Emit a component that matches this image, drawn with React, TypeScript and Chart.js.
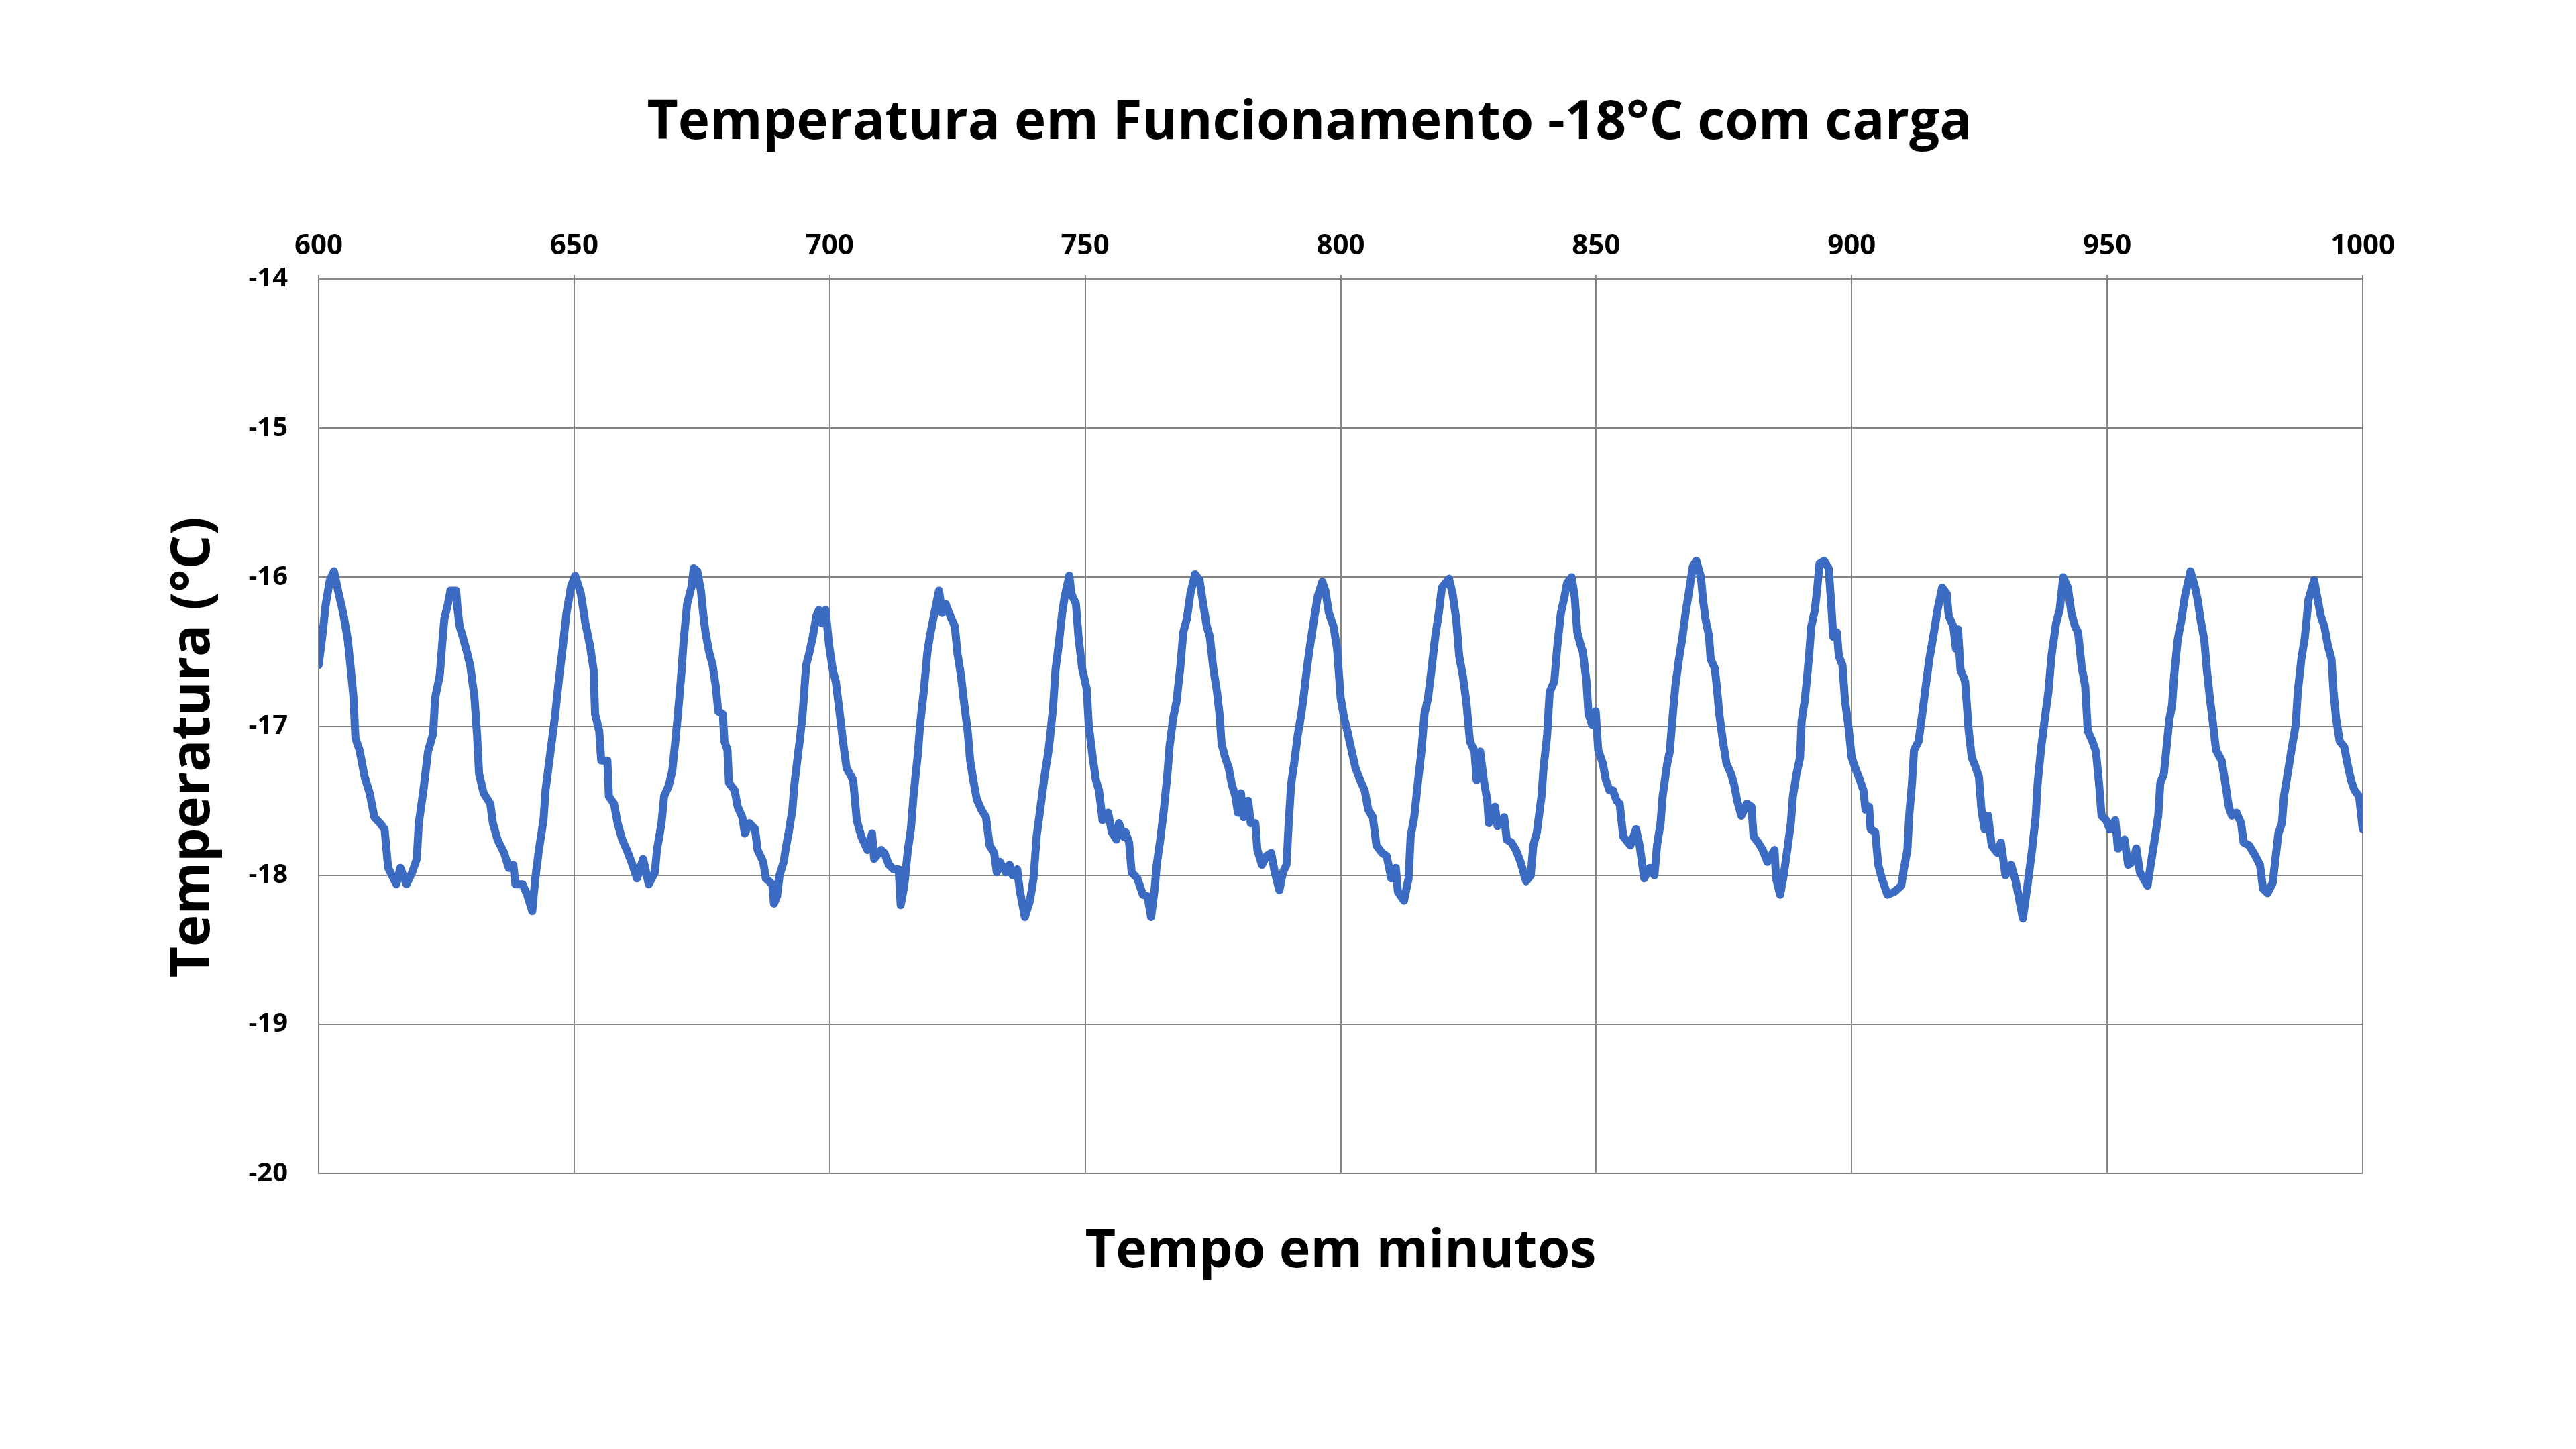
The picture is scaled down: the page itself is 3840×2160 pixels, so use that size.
import { useEffect, useRef } from "react";
import { Chart, registerables, type Chart as ChartType } from "chart.js";

Chart.register(...registerables);

const TITLE = "Temperatura em Funcionamento -18°C com carga";
const X_TITLE = "Tempo em minutos";
const Y_TITLE = "Temperatura (°C)";

const X_MIN = 600;
const X_MAX = 1000;
const X_STEP = 50;
const Y_MIN = -20;
const Y_MAX = -14;
const Y_STEP = 1;

// readings as [minute, °C]
const readings600: [number, number][] = [
  [600.0, -16.59], [600.7, -16.4], [601.4, -16.18], [602.2, -16.02], [603.0, -15.96], [603.8, -16.09],
  [604.8, -16.24], [605.7, -16.42], [606.3, -16.62], [606.8, -16.8], [607.2, -17.08], [608.0, -17.16],
  [609.0, -17.34], [610.0, -17.45], [610.9, -17.61], [612.0, -17.65], [612.9, -17.69], [613.6, -17.95],
  [615.2, -18.06], [616.0, -17.95], [617.2, -18.06], [618.3, -17.98], [619.2, -17.89], [619.6, -17.65],
  [620.5, -17.43], [621.4, -17.17], [622.4, -17.05], [622.8, -16.81], [623.7, -16.66], [624.2, -16.44],
  [624.6, -16.28], [625.3, -16.18], [625.8, -16.09], [626.9, -16.09], [627.2, -16.22], [627.6, -16.33],
  [628.2, -16.4], [629.0, -16.5], [629.7, -16.6], [630.5, -16.81], [631.0, -17.06], [631.4, -17.32],
  [632.3, -17.45], [633.6, -17.52], [634.1, -17.65], [635.0, -17.76], [636.3, -17.85], [637.2, -17.95],
  [638.1, -17.93], [638.5, -18.06], [639.9, -18.06], [640.8, -18.13], [641.8, -18.24], [642.4, -18.02],
  [643.1, -17.83], [644.0, -17.63], [644.4, -17.43], [645.3, -17.19], [646.2, -16.95], [647.1, -16.66],
  [647.8, -16.46], [648.5, -16.24], [649.4, -16.06], [650.2, -15.99], [651.3, -16.11], [652.2, -16.31],
  [653.1, -16.46], [653.8, -16.62], [654.1, -16.92], [654.9, -17.03], [655.3, -17.23], [656.5, -17.23],
  [656.8, -17.47], [657.8, -17.52], [658.5, -17.65], [659.4, -17.76], [660.3, -17.83], [661.2, -17.91],
  [662.3, -18.02], [663.5, -17.89], [664.6, -18.06], [665.8, -17.98], [666.2, -17.83], [667.1, -17.65],
  [667.6, -17.47], [668.5, -17.4], [669.2, -17.3], [669.8, -17.1], [670.3, -16.92], [670.9, -16.68],
  [671.4, -16.44], [672.1, -16.18], [673.0, -16.06], [673.4, -15.94], [674.1, -15.96], [674.8, -16.09],
  [675.3, -16.26], [675.7, -16.37], [676.4, -16.5], [677.1, -16.59], [677.7, -16.73], [678.2, -16.9],
  [679.1, -16.92], [679.4, -17.1], [680.0, -17.16], [680.3, -17.38], [681.4, -17.43], [682.0, -17.54],
  [682.9, -17.61], [683.4, -17.72], [684.3, -17.65], [685.4, -17.69], [685.9, -17.83], [687.0, -17.91],
  [687.5, -18.02], [688.8, -18.06], [689.1, -18.19], [689.7, -18.14], [690.2, -18.0], [691.0, -17.91],
  [691.5, -17.8], [692.0, -17.71], [692.7, -17.56], [693.1, -17.39], [693.8, -17.19], [694.2, -17.08],
  [694.7, -16.92], [695.4, -16.59], [696.0, -16.51], [696.7, -16.4], [697.4, -16.26], [697.9, -16.22],
  [698.5, -16.31], [699.2, -16.22], [699.9, -16.46],
];

const readings700: [number, number][] = [
  [700.6, -16.62], [701.2, -16.7], [701.7, -16.84], [702.6, -17.1], [703.3, -17.28], [704.6, -17.36],
  [705.3, -17.63], [706.2, -17.74], [707.4, -17.83], [708.3, -17.72], [708.7, -17.89], [710.1, -17.83],
  [710.7, -17.85], [711.6, -17.93], [712.5, -17.96], [713.5, -17.96], [713.9, -18.2], [714.6, -18.07],
  [715.3, -17.83], [715.9, -17.69], [716.4, -17.47], [717.3, -17.17], [717.7, -16.99], [718.4, -16.77],
  [719.1, -16.51], [719.6, -16.4], [720.5, -16.24], [721.4, -16.09], [722.0, -16.24], [722.7, -16.18],
  [723.6, -16.26], [724.5, -16.33], [725.0, -16.51], [725.7, -16.66], [726.3, -16.84], [727.0, -17.03],
  [727.5, -17.23], [728.1, -17.36], [728.8, -17.49], [729.7, -17.56], [730.6, -17.61], [731.3, -17.8],
  [732.2, -17.85], [732.7, -17.98], [733.3, -17.91], [734.5, -17.98], [735.2, -17.93], [735.8, -18.0],
  [736.7, -17.96], [737.2, -18.1], [738.2, -18.28], [739.2, -18.17], [739.9, -18.02], [740.5, -17.74],
  [741.2, -17.56], [742.1, -17.32], [742.8, -17.17], [743.2, -17.05], [743.7, -16.88], [744.2, -16.62],
  [744.8, -16.46], [745.5, -16.24], [746.0, -16.13], [746.9, -15.99], [747.3, -16.11], [748.2, -16.18],
  [748.7, -16.4], [749.4, -16.61], [750.3, -16.75], [750.7, -16.99], [751.4, -17.19], [752.1, -17.36],
  [752.7, -17.43], [753.4, -17.63], [754.5, -17.58], [755.2, -17.71], [756.1, -17.76], [756.6, -17.65],
  [757.5, -17.74], [757.9, -17.71], [758.6, -17.78], [759.1, -17.98], [760.2, -18.02], [760.9, -18.09],
  [761.3, -18.13], [762.2, -18.14], [762.9, -18.28], [763.6, -18.09], [764.0, -17.93], [764.7, -17.76],
  [765.4, -17.56], [766.1, -17.32], [766.5, -17.14], [767.2, -16.95], [767.9, -16.83], [768.6, -16.61],
  [769.2, -16.37], [769.9, -16.28], [770.6, -16.11], [771.5, -15.98], [772.4, -16.02], [773.1, -16.18],
  [773.8, -16.33], [774.4, -16.4], [775.1, -16.62], [775.8, -16.77], [776.3, -16.92], [776.7, -17.12],
  [777.4, -17.21], [778.1, -17.28], [778.7, -17.39], [779.4, -17.47], [779.9, -17.58], [780.5, -17.45],
  [781.0, -17.61], [781.9, -17.5], [782.4, -17.65], [783.3, -17.65], [783.7, -17.83], [784.6, -17.93],
  [785.5, -17.87], [786.4, -17.85], [787.1, -17.98], [788.0, -18.1], [788.7, -17.98], [789.4, -17.93],
  [789.8, -17.67], [790.3, -17.39], [790.9, -17.25], [791.6, -17.06], [792.3, -16.92], [792.8, -16.79],
  [793.4, -16.61], [794.1, -16.44], [794.8, -16.28], [795.5, -16.13], [796.4, -16.03], [797.0, -16.09],
  [797.7, -16.24], [798.6, -16.33], [799.3, -16.48],
];

const readings800: [number, number][] = [
  [800.0, -16.81], [800.7, -16.95], [801.3, -17.03], [802.0, -17.14], [802.9, -17.28], [803.8, -17.36],
  [804.7, -17.43], [805.4, -17.56], [806.3, -17.61], [807.0, -17.8], [808.1, -17.85], [809.0, -17.87],
  [809.9, -18.02], [810.8, -17.95], [811.2, -18.11], [812.4, -18.17], [813.3, -18.02], [813.7, -17.74],
  [814.4, -17.61], [815.1, -17.38], [815.8, -17.17], [816.4, -16.92], [817.1, -16.81], [817.8, -16.61],
  [818.5, -16.4], [819.2, -16.24], [819.8, -16.07], [821.2, -16.01], [821.9, -16.11], [822.6, -16.28],
  [823.2, -16.53], [823.9, -16.66], [824.6, -16.84], [825.3, -17.1], [826.2, -17.17], [826.6, -17.36],
  [827.3, -17.17], [828.0, -17.36], [828.7, -17.5], [829.0, -17.65], [830.2, -17.54], [830.7, -17.67],
  [832.0, -17.61], [832.5, -17.76], [833.4, -17.78], [834.3, -17.83], [835.2, -17.91], [836.3, -18.04],
  [837.2, -18.0], [837.7, -17.8], [838.4, -17.71], [839.3, -17.47], [839.7, -17.28], [840.4, -17.06],
  [840.9, -16.77], [841.8, -16.7], [842.4, -16.46], [843.1, -16.24], [843.8, -16.13], [844.3, -16.04],
  [845.2, -16.0], [845.8, -16.13], [846.3, -16.37], [847.0, -16.46], [847.4, -16.5], [848.1, -16.7],
  [848.5, -16.92], [849.2, -16.99], [849.9, -16.9], [850.4, -17.16], [851.3, -17.25], [851.9, -17.36],
  [852.6, -17.43], [853.3, -17.43], [854.0, -17.5], [854.6, -17.52], [855.3, -17.74], [856.7, -17.8],
  [857.8, -17.69], [858.5, -17.8], [859.4, -18.02], [860.5, -17.95], [861.4, -18.0], [861.9, -17.8],
  [862.6, -17.65], [863.0, -17.47], [863.9, -17.25], [864.4, -17.17], [865.0, -16.92], [865.5, -16.73],
  [866.2, -16.55], [866.9, -16.4], [867.5, -16.24], [868.2, -16.09], [868.9, -15.93], [869.6, -15.89],
  [870.5, -16.0], [870.9, -16.15], [871.4, -16.28], [872.1, -16.4], [872.4, -16.55], [873.2, -16.61],
  [873.6, -16.73], [874.1, -16.92], [874.8, -17.1], [875.5, -17.25], [876.4, -17.32], [877.0, -17.39],
  [877.6, -17.5], [878.4, -17.6], [879.5, -17.52], [880.4, -17.54], [880.8, -17.74], [881.7, -17.78],
  [882.6, -17.83], [883.5, -17.91], [884.9, -17.83], [885.2, -18.02], [886.0, -18.13], [886.7, -18.0],
  [887.4, -17.83], [888.1, -17.65], [888.5, -17.47], [889.2, -17.32], [889.9, -17.21], [890.2, -16.97],
  [890.8, -16.83], [891.2, -16.7], [891.7, -16.51], [892.1, -16.33], [892.8, -16.22], [893.3, -16.06],
  [893.7, -15.91], [894.6, -15.89], [895.5, -15.94], [896.0, -16.18], [896.4, -16.4], [897.1, -16.37],
  [897.5, -16.53], [898.2, -16.59], [898.7, -16.83], [899.4, -17.01],
];

const readings900: [number, number][] = [
  [900.0, -17.21], [900.7, -17.28], [901.6, -17.36], [902.3, -17.43], [902.7, -17.56], [903.4, -17.54],
  [903.7, -17.69], [904.6, -17.71], [905.2, -17.93], [905.9, -18.02], [907.0, -18.13], [908.4, -18.11],
  [909.7, -18.07], [910.2, -17.96], [910.9, -17.83], [911.3, -17.58], [911.8, -17.38], [912.2, -17.16],
  [913.1, -17.1], [913.8, -16.92], [914.5, -16.73], [915.2, -16.55], [916.1, -16.37], [916.8, -16.22],
  [917.7, -16.07], [918.6, -16.11], [919.0, -16.26], [919.9, -16.33], [920.4, -16.48], [920.8, -16.35],
  [921.3, -16.62], [922.2, -16.7], [922.9, -17.03], [923.5, -17.21], [924.2, -17.27], [924.9, -17.34],
  [925.4, -17.56], [926.0, -17.69], [926.7, -17.6], [927.4, -17.8], [928.5, -17.85], [929.2, -17.78],
  [930.1, -18.0], [931.2, -17.93], [932.1, -18.04], [933.5, -18.29], [934.4, -18.07], [935.3, -17.83],
  [936.0, -17.61], [936.4, -17.38], [937.1, -17.14], [937.8, -16.95], [938.5, -16.77], [939.1, -16.53],
  [940.0, -16.31], [940.7, -16.22], [941.4, -16.0], [942.3, -16.07], [943.0, -16.24], [943.7, -16.33],
  [944.3, -16.37], [945.0, -16.6], [945.7, -16.73], [946.2, -17.03], [947.1, -17.1], [947.8, -17.17],
  [948.4, -17.38], [948.9, -17.6], [949.8, -17.63], [950.5, -17.69], [951.6, -17.63], [952.1, -17.82],
  [953.4, -17.76], [954.1, -17.93], [955.0, -17.91], [955.7, -17.82], [956.4, -17.98], [957.9, -18.07],
  [958.6, -17.91], [959.3, -17.76], [960.0, -17.6], [960.4, -17.38], [961.1, -17.32], [961.8, -17.08],
  [962.2, -16.95], [962.7, -16.86], [963.1, -16.66], [963.8, -16.42], [964.5, -16.29], [965.2, -16.13],
  [966.3, -15.96], [967.2, -16.07], [967.7, -16.15], [968.3, -16.29], [969.0, -16.42], [969.5, -16.62],
  [970.1, -16.81], [970.6, -16.95], [971.3, -17.16], [972.4, -17.23], [973.1, -17.38], [973.8, -17.54],
  [974.4, -17.6], [975.3, -17.58], [976.2, -17.65], [976.7, -17.78], [977.8, -17.8], [979.0, -17.87],
  [979.9, -17.93], [980.5, -18.09], [981.4, -18.12], [982.4, -18.05], [982.8, -17.93], [983.5, -17.72],
  [984.2, -17.65], [984.6, -17.47], [985.5, -17.28], [986.0, -17.17], [986.9, -16.99], [987.3, -16.77],
  [988.0, -16.55], [988.7, -16.4], [989.4, -16.15], [990.5, -16.02], [991.2, -16.15], [991.8, -16.26],
  [992.5, -16.33], [993.2, -16.46], [993.9, -16.55], [994.3, -16.77], [994.8, -16.95], [995.5, -17.1],
  [996.4, -17.14], [997.0, -17.25], [997.7, -17.36], [998.4, -17.43], [999.3, -17.47], [1000.0, -17.69],
];

const FONT = "'Open Sans', 'DejaVu Sans', sans-serif";
const GRID = "#858585";

export default function App() {
  const ref = useRef<HTMLCanvasElement>(null);
  const chartRef = useRef<ChartType | null>(null);

  useEffect(() => {
    if (!ref.current) return;
    const ctx = ref.current.getContext("2d");
    if (!ctx) return;

    const points = [...readings600, ...readings700, ...readings800, ...readings900].map(([x, y]) => ({ x, y }));

    chartRef.current = new Chart(ctx, {
      type: "line",
      data: {
        datasets: [
          {
            data: points,
            borderColor: "#3B6BC3",
            borderWidth: 12,
            borderJoinStyle: "round",
            borderCapStyle: "round",
            pointRadius: 0,
            tension: 0,
          },
        ],
      },
      options: {
        responsive: false,
        devicePixelRatio: 1,
        animation: false,
        layout: { padding: { left: 64, right: 0, top: 0, bottom: 246 } },
        plugins: {
          legend: { display: false },
          tooltip: { enabled: false },
          title: {
            display: true,
            text: TITLE,
            color: "#000",
            font: { family: FONT, size: 80, weight: "bold" },
            padding: { top: 136, bottom: 0 },
          },
          subtitle: {
            display: true,
            text: X_TITLE,
            position: "bottom",
            fullSize: false,
            color: "#000",
            font: { family: FONT, size: 79, weight: "bold" },
            padding: { top: 70, bottom: 0 },
          },
        },
        scales: {
          x: {
            type: "linear",
            position: "top",
            min: X_MIN,
            max: X_MAX,
            afterFit: (s) => {
              s.height = 184;
            },
            ticks: {
              stepSize: X_STEP,
              color: "#000",
              padding: 18,
              maxRotation: 0,
              font: { family: FONT, size: 42, weight: "bold" },
              callback: (v) => String(v),
            },
            grid: { color: GRID, lineWidth: 2, tickLength: 6, drawTicks: true },
            border: { color: GRID, width: 2 },
          },
          y: {
            type: "linear",
            position: "left",
            min: Y_MIN,
            max: Y_MAX,
            afterFit: (s) => {
              s.width = 411;
            },
            ticks: {
              stepSize: Y_STEP,
              color: "#000",
              padding: 46,
              font: { family: FONT, size: 40, weight: "bold" },
            },
            grid: { color: GRID, lineWidth: 2, drawTicks: false },
            border: { color: GRID, width: 2 },
            title: {
              display: true,
              // trailing spaces nudge the rotated title a little lower, as in the reference
              text: Y_TITLE + "   ",
              color: "#000",
              font: { family: FONT, size: 80, weight: "bold" },
              padding: { top: 177, bottom: 0 },
            },
          },
          // empty right-hand box that keeps the plot clear of the right margin
          pad: {
            type: "linear",
            position: "right",
            display: true,
            afterFit: (s) => {
              s.width = 318;
            },
            ticks: { display: false },
            grid: { display: false },
            border: { display: false },
          },
        },
      },
    });
    return () => {
      chartRef.current?.destroy();
    };
  }, []);

  return (
    <div style={{ position: "absolute", left: 0, top: 0, width: 3840, height: 2160, background: "#fff" }}>
      <canvas ref={ref} width={3840} height={2160} style={{ width: 3840, height: 2160, display: "block" }} />
    </div>
  );
}
